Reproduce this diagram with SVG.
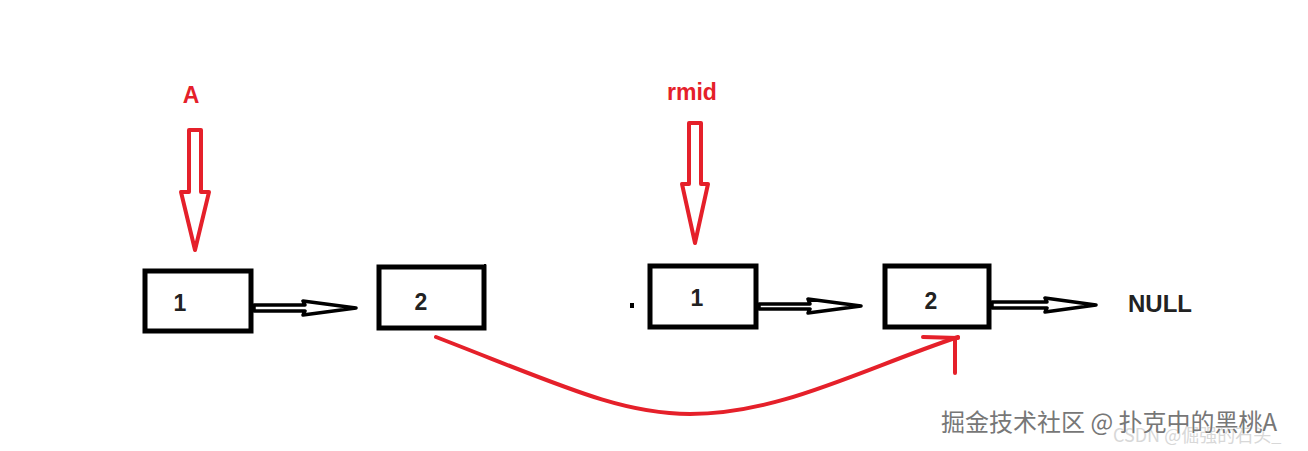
<svg xmlns="http://www.w3.org/2000/svg" width="1308" height="451" viewBox="0 0 1308 451">
<style>
.box{fill:#fff;stroke:#000;stroke-width:5}
.num{font-family:"Liberation Sans",Arial,sans-serif;font-weight:bold;font-size:23px;fill:#222;text-anchor:middle}
.lbl{font-family:"Liberation Sans",Arial,sans-serif;font-weight:bold;font-size:23px;fill:#e5202a;text-anchor:middle}
.harrow{fill:#fff;stroke:#000;stroke-width:3.5;stroke-linejoin:round}
.varrow{fill:#fff;stroke:#e5202a;stroke-width:4;stroke-linejoin:round}
.red{fill:none;stroke:#e5202a;stroke-width:4;stroke-linecap:round}
.wm{font-family:"Noto Sans CJK SC","Liberation Sans",sans-serif;font-size:24px;fill:#777;stroke:#fff;stroke-width:0.6;paint-order:stroke}
.wm2{font-family:"Noto Sans CJK SC","Liberation Sans",sans-serif;font-size:18px;fill:#d8d8d8}
</style>
<rect width="1308" height="451" fill="#fff"/>
<g id="label-A"><text class="lbl" x="191" y="103">A</text></g>
<g id="label-rmid"><text class="lbl" x="692" y="100">rmid</text></g>
<g id="node1"><rect class="box" x="145" y="271" width="106" height="60"/><text class="num" x="180" y="311">1</text></g>
<g id="node2"><rect class="box" x="379" y="267" width="105" height="61"/><line x1="485" y1="264" x2="485" y2="275" stroke="#000" stroke-width="2"/><text class="num" x="421" y="310">2</text></g>
<g id="node3"><rect class="box" x="650" y="266" width="106" height="61"/><text class="num" x="697" y="306">1</text></g>
<g id="node4"><rect class="box" x="885" y="266" width="104" height="61"/><text class="num" x="931" y="309">2</text></g>
<g id="null"><text x="1128" y="312" font-family="Liberation Sans,Arial,sans-serif" font-weight="bold" font-size="24" fill="#222">NULL</text></g>
<rect x="630" y="303" width="4" height="5" fill="#000"/>
<g id="connectors">
<polygon class="harrow" points="254,305 305,305 303,301 356,308 303,315 305,311 254,311"/>
<polygon class="harrow" points="759,304 810,304 808,299 861,306 808,313 810,309 759,309"/>
<polygon class="harrow" points="992,302 1047,302 1045,298 1096,305 1045,312 1047,308 992,308"/>
<polygon class="varrow" points="189,130 201,130 201,192 209,192 195,250 181,192 189,192"/>
<polygon class="varrow" points="689,123 701,123 701,184 708,184 695,243 682,184 689,184"/>
<path class="red" d="M436,337 C560,385 620,414 690,414 C780,414 860,370 958,337"/>
<path class="red" d="M923,337 L958,338 M955,340 L955,373"/>
</g>
<g id="watermark">
<text class="wm2" x="1113" y="442">CSDN @倔强的石头_</text>
<text class="wm" x="941" y="431">掘金技术社区 @ 扑克中的黑桃A</text>
</g>
</svg>
